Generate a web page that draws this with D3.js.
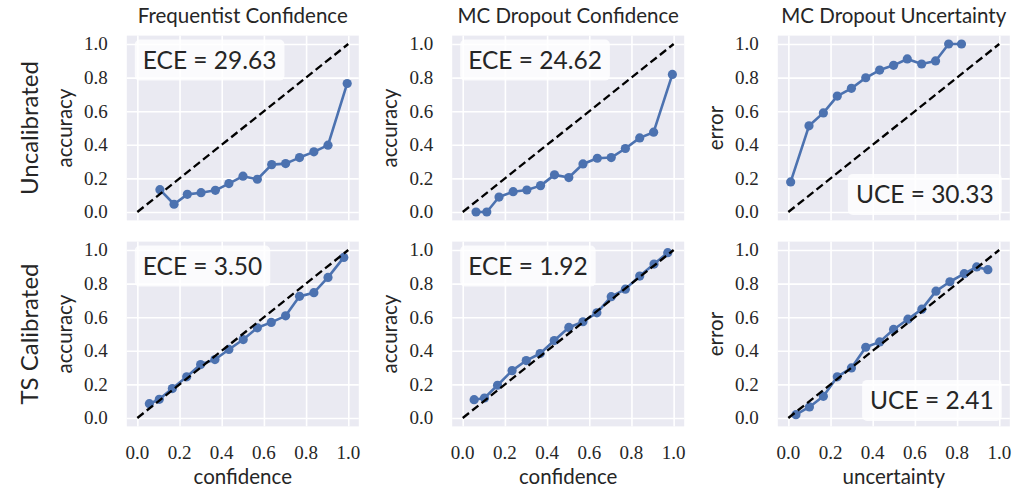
<!DOCTYPE html>
<html>
<head>
<meta charset="utf-8">
<script src="https://cdn.jsdelivr.net/npm/d3@7"></script>
<style>
  body { margin: 0; background: #fff; }
  svg { display: block; }
</style>
</head>
<body>
<svg id="chart"></svg>
<script>
var colTitles = ['Frequentist Confidence', 'MC Dropout Confidence', 'MC Dropout Uncertainty']
var rowLabels = ['Uncalibrated', 'TS Calibrated']
var xLabels = ['confidence', 'confidence', 'uncertainty']
var yLabels = ['accuracy', 'accuracy', 'error']
var metricNames = ['ECE', 'ECE', 'UCE']
var metricTop = [29.63, 24.62, 30.33]
var metricBottom = [3.50, 1.92, 2.41]
var ticks = [0, 0.2, 0.4, 0.6, 0.8, 1.0]

// top row, uncalibrated
var freqUncalX = [0.107, 0.174, 0.237, 0.302, 0.370, 0.434, 0.501, 0.569, 0.637, 0.703, 0.769, 0.837, 0.904, 0.995]
var freqUncalY = [0.133, 0.046, 0.105, 0.115, 0.129, 0.169, 0.213, 0.195, 0.282, 0.288, 0.324, 0.358, 0.398, 0.765]
var mcUncalX = [0.063, 0.114, 0.172, 0.239, 0.304, 0.369, 0.435, 0.503, 0.570, 0.638, 0.704, 0.771, 0.839, 0.905, 0.994]
var mcUncalY = [0.0, 0.0, 0.089, 0.121, 0.131, 0.157, 0.221, 0.205, 0.286, 0.320, 0.324, 0.378, 0.441, 0.475, 0.819]
var uncUncalX = [0.011, 0.098, 0.166, 0.232, 0.299, 0.367, 0.433, 0.499, 0.564, 0.632, 0.698, 0.760, 0.821]
var uncUncalY = [0.179, 0.513, 0.590, 0.690, 0.736, 0.799, 0.845, 0.873, 0.911, 0.881, 0.899, 1.0, 1.0]

// bottom row, temperature scaled
var freqCalX = [0.057, 0.104, 0.166, 0.234, 0.300, 0.368, 0.434, 0.502, 0.569, 0.635, 0.703, 0.769, 0.837, 0.904, 0.979]
var freqCalY = [0.085, 0.111, 0.175, 0.245, 0.318, 0.348, 0.408, 0.467, 0.537, 0.569, 0.608, 0.724, 0.746, 0.837, 0.956]
var mcCalX = [0.054, 0.103, 0.165, 0.234, 0.301, 0.367, 0.434, 0.503, 0.570, 0.636, 0.704, 0.771, 0.839, 0.907, 0.972]
var mcCalY = [0.109, 0.119, 0.195, 0.282, 0.342, 0.384, 0.461, 0.539, 0.573, 0.626, 0.722, 0.767, 0.845, 0.916, 0.984]
var uncCalX = [0.036, 0.100, 0.166, 0.232, 0.299, 0.367, 0.433, 0.499, 0.567, 0.633, 0.700, 0.766, 0.834, 0.893, 0.946]
var uncCalY = [0.020, 0.066, 0.129, 0.245, 0.298, 0.421, 0.453, 0.527, 0.588, 0.648, 0.755, 0.811, 0.859, 0.899, 0.883]

var W = 1015, H = 489
var colLeft = [126.8, 452.2, 777.8]
var rowTop = [35.6, 241.6]
var panelW = 232, panelH = 184.8
var sans = 'Lato, "DejaVu Sans", sans-serif'
var serif = '"Liberation Serif", "DejaVu Serif", serif'
var ink = '#262626'
var blue = '#4c72b0'

var svg = d3.select('#chart').attr('width', W).attr('height', H)

var series = [
  [[freqUncalX, freqUncalY], [mcUncalX, mcUncalY], [uncUncalX, uncUncalY]],
  [[freqCalX, freqCalY], [mcCalX, mcCalY], [uncCalX, uncCalY]]
]
var metrics = [metricTop, metricBottom]

function drawPanel(r, c){
  var x = d3.scaleLinear().domain([-0.05, 1.05]).range([colLeft[c], colLeft[c] + panelW])
  var y = d3.scaleLinear().domain([-0.05, 1.05]).range([rowTop[r] + panelH, rowTop[r]])
  var g = svg.append('g').attr('class', 'panel')

  g.append('rect')
    .attr('x', x.range()[0]).attr('y', y.range()[1])
    .attr('width', panelW).attr('height', panelH)
    .attr('fill', '#eaeaf2')

  // gridlines via axes with full-length ticks
  var gx = g.append('g')
    .attr('transform', 'translate(0,' + y.range()[0] + ')')
    .call(d3.axisBottom(x).tickValues(ticks).tickSize(-panelH).tickFormat(''))
  var gy = g.append('g')
    .attr('transform', 'translate(' + x.range()[0] + ',0)')
    .call(d3.axisLeft(y).tickValues(ticks).tickSize(-panelW).tickFormat(''))
  ;[gx, gy].forEach(function(a){
    a.select('.domain').remove()
    a.selectAll('line').attr('stroke', '#fff').attr('stroke-width', 1.6)
  })

  // y tick labels
  g.selectAll('.ytl').data(ticks).enter().append('text')
    .attr('x', x.range()[0] - 19)
    .attr('y', function(d){ return y(d) })
    .attr('dy', '0.34em')
    .attr('text-anchor', 'end')
    .attr('font-family', serif).attr('font-size', 19).attr('fill', ink)
    .text(d3.format('.1f'))

  if (r == 1) {
    g.selectAll('.xtl').data(ticks).enter().append('text')
      .attr('x', function(d){ return x(d) })
      .attr('y', 459)
      .attr('text-anchor', 'middle')
      .attr('font-family', serif).attr('font-size', 19).attr('fill', ink)
      .text(d3.format('.1f'))
    g.append('text')
      .attr('x', (x.range()[0] + x.range()[1]) / 2)
      .attr('y', 484)
      .attr('text-anchor', 'middle')
      .attr('font-family', sans).attr('font-size', 20.5).attr('fill', ink)
      .text(xLabels[c])
  } else {
    g.append('text')
      .attr('x', (x.range()[0] + x.range()[1]) / 2)
      .attr('y', 23)
      .attr('text-anchor', 'middle')
      .attr('font-family', sans).attr('font-size', 20.5).attr('fill', ink)
      .text(colTitles[c])
  }

  // y label
  var ymid = (y.range()[0] + y.range()[1]) / 2
  var ylx = x.range()[0] - 55
  g.append('text')
    .attr('transform', 'translate(' + ylx + ',' + ymid + ') rotate(-90)')
    .attr('text-anchor', 'middle')
    .attr('font-family', sans).attr('font-size', 20.5).attr('fill', ink)
    .text(yLabels[c])

  var xs = series[r][c][0], ys = series[r][c][1]
  var pts = xs.map(function(v, i){ return [v, ys[i]] })

  var line = d3.line().x(function(d){ return x(d[0]) }).y(function(d){ return y(d[1]) })
  g.append('path').datum(pts)
    .attr('d', line)
    .attr('fill', 'none').attr('stroke', blue).attr('stroke-width', 2.6)
    .attr('stroke-linejoin', 'round')
  g.selectAll('.dot').data(pts).enter().append('circle')
    .attr('cx', function(d){ return x(d[0]) })
    .attr('cy', function(d){ return y(d[1]) })
    .attr('r', 4.6)
    .attr('fill', blue)

  g.append('path').datum([[0, 0], [1, 1]])
    .attr('d', line)
    .attr('fill', 'none').attr('stroke', '#000').attr('stroke-width', 2.3)
    .attr('stroke-dasharray', '8,4')

  // metric box
  var label = metricNames[c] + ' = ' + d3.format('.2f')(metrics[r][c])
  var box = g.append('rect').attr('rx', 5).attr('ry', 5)
    .attr('fill', '#fff').attr('fill-opacity', 0.8)
  var t = g.append('text')
    .attr('font-family', sans).attr('font-size', 24.5).attr('fill', ink)
    .text(label)
  var tw = t.node().getComputedTextLength()
  var bw = tw + 16, bh = 41
  var bx, by
  if (c == 2) {
    bx = x.range()[1] - 8 - bw
    by = y.range()[0] - 5.5 - bh
  } else {
    bx = x.range()[0] + 8
    by = y.range()[1] + 4
  }
  box.attr('x', bx).attr('y', by).attr('width', bw).attr('height', bh)
  t.attr('x', bx + 8).attr('y', by + bh / 2).attr('dy', '0.36em')
}

for (var r = 0; r < 2; r++) {
  for (var c = 0; c < 3; c++) drawPanel(r, c)
  svg.append('text')
    .attr('transform', 'translate(38,' + (rowTop[r] + panelH / 2) + ') rotate(-90)')
    .attr('text-anchor', 'middle')
    .attr('font-family', sans).attr('font-size', 24).attr('fill', ink)
    .text(rowLabels[r])
}
</script>
</body>
</html>
